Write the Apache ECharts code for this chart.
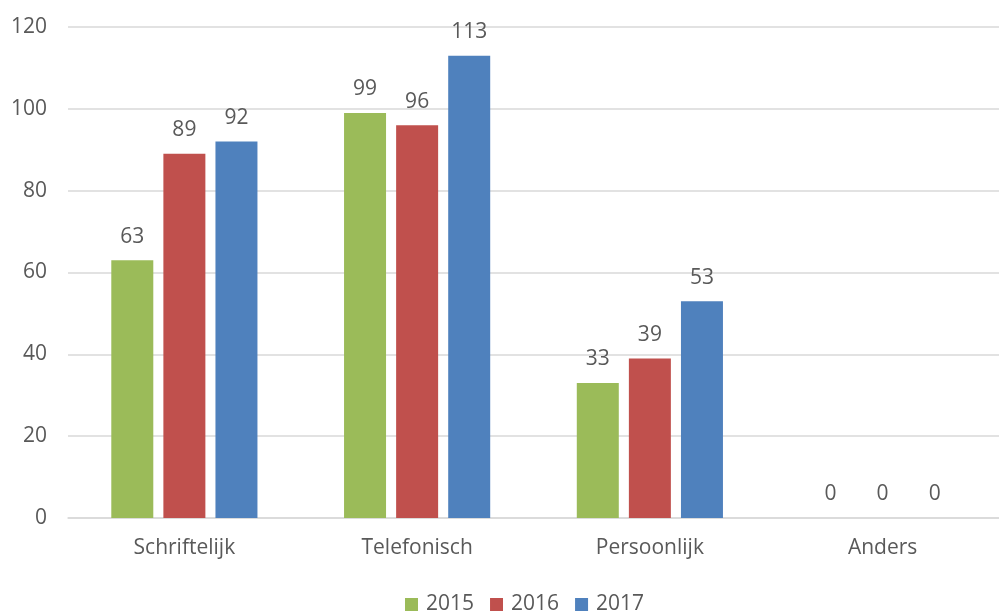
<!DOCTYPE html>
<html>
<head>
<meta charset="utf-8">
<script src="https://cdn.jsdelivr.net/npm/echarts@6/dist/echarts.min.js"></script>
<style>
  html, body { margin: 0; padding: 0; background: #fff; }
  #chart { width: 999px; height: 612px; }
</style>
</head>
<body>
<div id="chart"></div>
<script>
// Contact channels per year
const categories = ['Schriftelijk', 'Telefonisch', 'Persoonlijk', 'Anders'];
const years = ['2015', '2016', '2017'];
const values2015 = [63, 99, 33, 0];
const values2016 = [89, 96, 39, 0];
const values2017 = [92, 113, 53, 0];
const yTicks = [0, 20, 40, 60, 80, 100, 120];

const colors = ['#9BBB59', '#C0504D', '#4F81BD'];
const seriesValues = [values2015, values2016, values2017];
const textColor = '#595959';
const fontFamily = '"Open Sans", "Noto Sans", sans-serif';
const fontSize = 21;

const chart = echarts.init(document.getElementById('chart'));
chart.setOption({
  animation: false,
  textStyle: { fontFamily: fontFamily },
  grid: { left: 68, right: 0, top: 27, bottom: 94, containLabel: false },
  legend: {
    data: years,
    top: 589,
    left: 400,
    itemWidth: 13,
    itemHeight: 13,
    itemGap: 16,
    icon: 'rect',
    textStyle: { fontSize: fontSize, color: textColor, fontFamily: fontFamily, padding: [0, 0, 0, 3] }
  },
  xAxis: {
    type: 'category',
    data: categories,
    axisLine: { lineStyle: { color: '#D9D9D9', width: 1.5 } },
    axisTick: { show: false },
    axisLabel: { fontSize: fontSize, color: textColor, margin: 20, fontFamily: fontFamily }
  },
  yAxis: {
    type: 'value',
    min: yTicks[0],
    max: yTicks[yTicks.length - 1],
    interval: 20,
    axisLine: { show: false },
    axisTick: { show: false },
    axisLabel: { fontSize: fontSize, color: textColor, margin: 21, fontFamily: fontFamily },
    splitLine: { lineStyle: { color: '#D9D9D9', width: 1.5 } }
  },
  series: years.map((y, i) => ({
    name: y,
    type: 'bar',
    data: seriesValues[i],
    barWidth: 42,
    barGap: '24%',
    itemStyle: { color: colors[i] },
    label: {
      show: true,
      position: 'top',
      distance: 13,
      fontSize: fontSize,
      color: textColor,
      fontFamily: fontFamily
    }
  }))
});
</script>
</body>
</html>
